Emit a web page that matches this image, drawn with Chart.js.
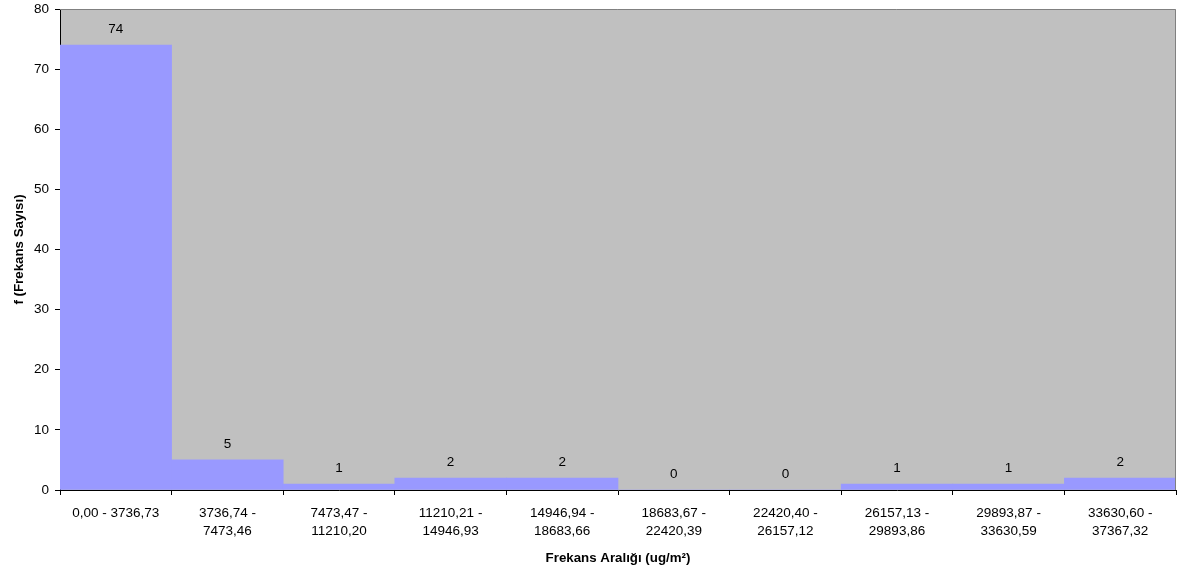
<!DOCTYPE html>
<html>
<head>
<meta charset="utf-8">
<script src="https://cdn.jsdelivr.net/npm/chart.js@4/dist/chart.umd.min.js"></script>
<style>
  html, body { margin: 0; padding: 0; background: #fff; }
  #wrap { width: 1177px; height: 573px; }
</style>
</head>
<body>
<div id="wrap"><canvas id="c"></canvas></div>
<script>
// frequency classes (ug/m²) and counts
const classLabels = [
  ['0,00 - 3736,73'],
  ['3736,74 -', '7473,46'],
  ['7473,47 -', '11210,20'],
  ['11210,21 -', '14946,93'],
  ['14946,94 -', '18683,66'],
  ['18683,67 -', '22420,39'],
  ['22420,40 -', '26157,12'],
  ['26157,13 -', '29893,86'],
  ['29893,87 -', '33630,59'],
  ['33630,60 -', '37367,32']
];
const counts = [74, 5, 1, 2, 2, 0, 0, 1, 1, 2];
const yMax = 80;
const yStep = 10;

const FONT = '"Liberation Sans", Arial, sans-serif';

// gray plot area + gray top/right frame
const plotBg = {
  id: 'plotBg',
  beforeDraw(chart) {
    const { ctx, chartArea: a } = chart;
    ctx.save();
    ctx.fillStyle = '#C0C0C0';
    ctx.fillRect(a.left, a.top, a.right - a.left, a.bottom - a.top);
    ctx.restore();
  },
  afterDatasetsDraw(chart) {
    const { ctx, chartArea: a } = chart;
    ctx.save();
    ctx.strokeStyle = '#808080';
    ctx.lineWidth = 1;
    ctx.beginPath();
    ctx.moveTo(a.left, a.top + 0.5);
    ctx.lineTo(a.right - 0.5, a.top + 0.5);
    ctx.lineTo(a.right - 0.5, a.bottom);
    ctx.stroke();
    ctx.restore();
  }
};

// value labels above each bar
const valueLabels = {
  id: 'valueLabels',
  afterDatasetsDraw(chart) {
    const { ctx } = chart;
    const meta = chart.getDatasetMeta(0);
    ctx.save();
    ctx.font = '13.5px ' + FONT;
    ctx.fillStyle = '#000';
    ctx.textAlign = 'center';
    ctx.textBaseline = 'middle';
    meta.data.forEach((bar, i) => {
      ctx.fillText(String(counts[i]), bar.x, bar.y - 16);
    });
    ctx.restore();
  }
};

new Chart(document.getElementById('c'), {
  type: 'bar',
  data: {
    labels: classLabels,
    datasets: [{
      data: counts,
      backgroundColor: '#9999FF',
      borderWidth: 0,
      categoryPercentage: 1.0,
      barPercentage: 1.0
    }]
  },
  options: {
    responsive: true,
    maintainAspectRatio: false,
    animation: false,
    layout: { padding: { top: 9, right: 1, left: 0, bottom: 0 } },
    plugins: { legend: { display: false }, tooltip: { enabled: false } },
    scales: {
      x: {
        afterFit(s) { s.height = 83; s.paddingLeft = 0; s.paddingRight = 0; },
        grid: { offset: true, drawOnChartArea: false, color: '#000', tickLength: 5, tickWidth: 1 },
        border: { color: '#000', width: 1 },
        ticks: {
          color: '#000', font: { family: FONT, size: 13.5, lineHeight: 1.3 },
          padding: 10, maxRotation: 0, autoSkip: false
        },
        title: {
          display: true, text: 'Frekans Aralığı (ug/m²)', color: '#000',
          font: { family: FONT, size: 13.3, weight: 'bold' }, padding: { top: 0, bottom: 7 }
        }
      },
      y: {
        min: 0, max: yMax,
        afterFit(s) { s.width = 60; s.paddingTop = 0; s.paddingBottom = 0; },
        grid: { drawOnChartArea: false, color: '#000', tickLength: 5, tickWidth: 1 },
        border: { color: '#000', width: 1 },
        ticks: {
          stepSize: yStep, color: '#000', font: { family: FONT, size: 13.5 }, padding: 6
        },
        title: {
          display: true, text: 'f (Frekans Sayısı)', color: '#000',
          font: { family: FONT, size: 13.3, weight: 'bold' }, padding: { top: 11, bottom: 0 }
        }
      }
    }
  },
  plugins: [plotBg, valueLabels]
});
</script>
</body>
</html>
